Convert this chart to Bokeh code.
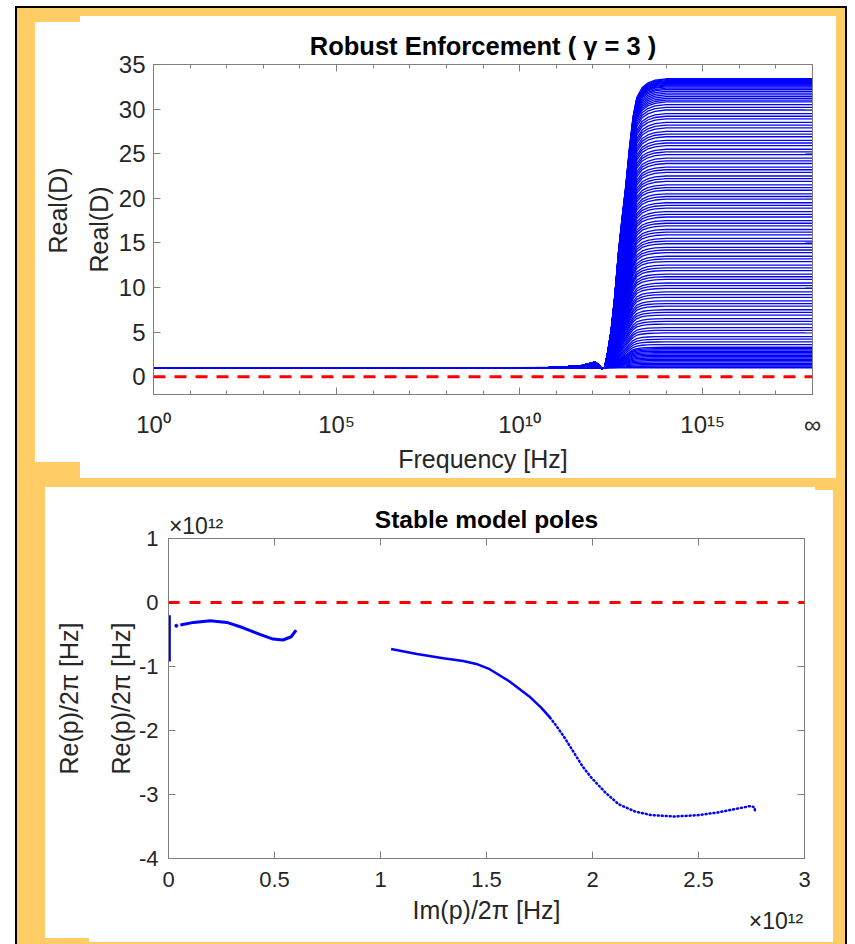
import numpy as np
from bokeh.plotting import figure
from bokeh.layouts import column
from bokeh.models import (FixedTicker, LogAxis, LinearAxis, Span, Range1d, Title)
from bokeh.embed import file_html
from bokeh.resources import INLINE

FONT = "Liberation Sans"
AX = "#7f7f7f"
TXT = "#262626"

# ---------------- top chart data (Robust Enforcement) ----------------
freq_exponent = [0, 10.0, 10.8, 11.3, 11.7, 11.95, 12.05, 12.15, 12.25, 12.32,
                 12.4, 12.5, 12.6, 12.7, 12.8, 12.9, 13.0, 13.1, 13.2, 13.35,
                 13.5, 13.7, 14.0, 14.5, 18]
rise_fraction = [0, 0, 0.001, 0.004, 0.008, 0.016, 0.020, 0.012, -0.004, 0.0,
                 0.05, 0.13, 0.25, 0.40, 0.52, 0.63, 0.76, 0.87, 0.935, 0.97,
                 0.985, 0.995, 1.0, 1.0, 1.0]
low_freq_level = 1.0
plateau_levels = [
    1.0, 1.1, 1.2, 1.35, 1.5, 1.65, 1.8, 1.95, 2.1, 2.25, 2.4, 2.55, 2.7, 2.85, 3.0, 3.15, 3.3,
    3.6, 3.9, 4.2, 4.5, 4.9, 5.2, 5.5, 5.9, 6.2, 6.5, 6.9, 7.2, 7.5, 7.9, 8.2, 8.5, 8.9, 9.2, 9.5, 9.9,
    10.2, 10.5, 10.9, 11.2, 11.5, 11.9, 12.2, 12.5, 12.9, 13.2, 13.5, 13.9, 14.2, 14.5, 14.9,
    15.2, 15.5, 15.9, 16.2, 16.5, 16.9, 17.2, 17.5, 17.9, 18.2, 18.5, 18.9, 19.2, 19.5, 19.9,
    20.2, 20.5, 20.9, 21.2, 21.5, 21.9, 22.2, 22.5, 22.9, 23.2, 23.5, 23.9, 24.2, 24.5, 24.9,
    25.2, 25.5, 25.9, 26.2, 26.5, 26.9, 27.2, 27.5, 27.9, 28.2, 28.5, 28.9, 29.2, 29.5, 29.9,
    30.2, 30.5, 30.8, 31.0, 31.2, 31.4, 31.6, 31.8, 32.0, 32.2, 32.35, 32.5, 32.6, 32.7, 32.8,
    32.9, 33.0, 33.1, 33.2, 33.3, 33.4]

top_x_ticks = [1e0, 1e5, 1e10, 1e15, 1e18]
top_x_labels = ["10⁰", "10⁵", "10¹⁰", "10¹⁵", "∞"]
top_x_minor = [10.0 ** k for k in range(19)]
top_y_ticks = [0, 5, 10, 15, 20, 25, 30, 35]

# ---------------- bottom chart data (poles, units of 1e12 Hz) ----------------
pole_a_im = [0.004, 0.004]
pole_a_re = [-0.20, -0.92]
pole_lone_im = [0.037]
pole_lone_re = [-0.364]
pole_b_im = [0.056, 0.118, 0.197, 0.275, 0.352, 0.431, 0.493, 0.540, 0.579, 0.602]
pole_b_re = [-0.353, -0.311, -0.286, -0.311, -0.395, -0.498, -0.571, -0.586, -0.535, -0.431]
pole_c_im = [1.050, 1.172, 1.296, 1.390, 1.452, 1.515, 1.609, 1.702, 1.760, 1.800]
pole_c_re = [-0.726, -0.804, -0.871, -0.913, -0.960, -1.042, -1.235, -1.468, -1.650, -1.800]
pole_d_im = [1.800, 1.830, 1.870, 1.915, 1.955, 1.998, 2.061, 2.123, 2.201, 2.279, 2.388,
             2.498, 2.591, 2.685, 2.747, 2.766, 2.766]
pole_d_re = [-1.800, -1.930, -2.120, -2.360, -2.570, -2.750, -2.970, -3.152, -3.266, -3.323,
             -3.344, -3.323, -3.281, -3.219, -3.179, -3.204, -3.281]

bot_x_ticks = [0, 0.5, 1, 1.5, 2, 2.5, 3]
bot_x_labels = ["0", "0.5", "1", "1.5", "2", "2.5", "3"]
bot_y_ticks = [-4, -3, -2, -1, 0, 1]
bot_y_labels = ["-4", "-3", "-2", "-1", "0", "1"]
exponent_text = "×10¹²"


def style_axis(ax, size, standoff, tick_in=7, minor_in=0):
    ax.axis_line_color = AX
    ax.axis_line_width = 1
    ax.major_tick_line_color = AX
    ax.minor_tick_line_color = AX
    ax.major_tick_in = tick_in
    ax.major_tick_out = 0
    ax.minor_tick_in = minor_in
    ax.minor_tick_out = 0
    ax.major_label_text_font = FONT
    ax.major_label_text_font_size = size
    ax.major_label_text_color = TXT
    ax.major_label_standoff = standoff
    ax.axis_label_text_font = FONT
    ax.axis_label_text_font_style = "normal"
    ax.axis_label_text_color = TXT


def blank_axis(ax):
    ax.major_label_text_font_size = "1px"
    ax.major_label_text_alpha = 0
    ax.major_label_standoff = 0


def text_only_axis(ax):
    ax.axis_line_color = None
    ax.major_tick_line_color = None
    ax.minor_tick_line_color = None


# ============ top figure ============
top = figure(width=820, height=462, x_axis_type="log",
             x_range=Range1d(1, 1e18), y_range=Range1d(-2, 35),
             output_backend="svg", toolbar_location=None,
             min_border_left=132, min_border_right=19, min_border_top=48, min_border_bottom=84,
             border_fill_color=None, background_fill_color="white",
             outline_line_color=AX, margin=(16, 0, 0, 21))
top.grid.visible = False

freqs = [10.0 ** e for e in freq_exponent]
fam_xs = [freqs for _ in plateau_levels]
fam_ys = [[low_freq_level + (lvl - low_freq_level) * f for f in rise_fraction]
          for lvl in plateau_levels]
top.multi_line(xs=fam_xs, ys=fam_ys, line_color="#0000ff", line_width=1.3)
top.add_layout(Span(location=0, dimension="width", line_color="#ff0000",
                    line_width=3, line_dash="12 9"))

xt = FixedTicker(ticks=top_x_ticks, minor_ticks=top_x_minor)
yt = FixedTicker(ticks=top_y_ticks)
xa = top.xaxis[0]
xa.ticker = xt
xa.major_label_overrides = dict(zip(top_x_ticks, top_x_labels))
style_axis(xa, "24px", 16, minor_in=4)
xa.axis_label = "Frequency [Hz]"
xa.axis_label_text_font_size = "25px"
xa.axis_label_standoff = 4
ya = top.yaxis[0]
ya.ticker = yt
style_axis(ya, "24px", 8)
ya.axis_label = "Real(D)"
ya.axis_label_text_font_size = "25px"
ya.axis_label_standoff = 3

ta = LogAxis(ticker=xt)
style_axis(ta, "1px", 0, minor_in=4)
blank_axis(ta)
top.add_layout(ta, "above")
ra = LinearAxis(ticker=yt)
style_axis(ra, "1px", 0)
blank_axis(ra)
top.add_layout(ra, "right")

top.title.text = "Robust Enforcement ( γ = 3 )"
top.title.align = "center"
top.title.text_font = FONT
top.title.text_font_size = "25.5px"
top.title.text_font_style = "bold"
top.title.text_color = "#000000"
top.title.standoff = 10

# duplicated (overlapping screenshot) y label
top.add_layout(Title(text="Real(D)", align="left", offset=141, standoff=19,
                     text_font=FONT, text_font_size="25px", text_font_style="normal",
                     text_color=TXT), "left")

# ============ bottom figure ============
bot = figure(width=797, height=455,
             x_range=Range1d(0, 3), y_range=Range1d(-4, 1),
             output_backend="svg", toolbar_location=None,
             min_border_left=127, min_border_right=29, min_border_top=51, min_border_bottom=84,
             border_fill_color=None, background_fill_color="white",
             outline_line_color=AX, margin=(9, 0, 0, 36))
bot.grid.visible = False

bot.add_layout(Span(location=0, dimension="width", line_color="#ff0000",
                    line_width=3, line_dash="11 10"))
bot.line(pole_a_im, pole_a_re, line_color="#0000ff", line_width=3)
bot.scatter(pole_lone_im, pole_lone_re, size=3, color="#0000ff")
bot.line(pole_b_im, pole_b_re, line_color="#0000ff", line_width=3)
bot.line(pole_c_im, pole_c_re, line_color="#0000ff", line_width=2.5)
bot.line(pole_d_im, pole_d_re, line_color="#0000ff", line_width=2.5,
         line_dash="1 3", line_cap="round")

bxt = FixedTicker(ticks=bot_x_ticks)
byt = FixedTicker(ticks=bot_y_ticks)
bxa = bot.xaxis[0]
bxa.ticker = bxt
bxa.major_label_overrides = dict(zip(bot_x_ticks, bot_x_labels))
style_axis(bxa, "22px", 13)
bxa.axis_label = "Im(p)/2π [Hz]"
bxa.axis_label_text_font_size = "25px"
bxa.axis_label_standoff = 6
bya = bot.yaxis[0]
bya.ticker = byt
bya.major_label_overrides = dict(zip(bot_y_ticks, bot_y_labels))
style_axis(bya, "22px", 10)
bya.axis_label = "Re(p)/2π [Hz]"
bya.axis_label_text_font_size = "25px"
bya.axis_label_standoff = 1

bta = LinearAxis(ticker=bxt)
style_axis(bta, "1px", 0)
blank_axis(bta)
bot.add_layout(bta, "above")
bra = LinearAxis(ticker=byt)
style_axis(bra, "1px", 0)
blank_axis(bra)
bot.add_layout(bra, "right")

# exponent marker (top-left) + title on one row
exp_top = LinearAxis(ticker=FixedTicker(ticks=[0.13]),
                     major_label_overrides={0.13: exponent_text})
style_axis(exp_top, "23px", 0)
text_only_axis(exp_top)
exp_top.axis_label = "Stable model poles"
exp_top.axis_label_text_font_size = "24.5px"
exp_top.axis_label_text_font_style = "bold"
exp_top.axis_label_text_color = "#000000"
exp_top.axis_label_standoff = -23
bot.add_layout(exp_top, "above")

# exponent marker (bottom-right), pulled up onto the x-label row
exp_bot = LinearAxis(ticker=FixedTicker(ticks=[2.865]),
                     major_label_overrides={2.865: exponent_text})
style_axis(exp_bot, "23px", -19)
text_only_axis(exp_bot)
bot.add_layout(exp_bot, "below")

# duplicated (overlapping screenshot) y label
dup_left = LinearAxis(ticker=byt)
style_axis(dup_left, "1px", 0)
blank_axis(dup_left)
text_only_axis(dup_left)
dup_left.axis_label = "Re(p)/2π [Hz]"
dup_left.axis_label_text_font_size = "25px"
dup_left.axis_label_standoff = 21
bot.add_layout(dup_left, "left")

# ============ page background: black frame, orange card, white panels ============
W = "linear-gradient(#ffffff,#ffffff)"
layers = [
    f"{W} 35px 22px / 45px 440px no-repeat",
    f"{W} 80px 16px / 756px 462px no-repeat",
    f"{W} 45px 487px / 770px 4px no-repeat",
    f"{W} 89px 490px / 744px 452px no-repeat",
    f"{W} 45px 487px / 44px 451px no-repeat",
    "linear-gradient(#ffcc66,#ffcc66) 17px 8px / 828px 936px no-repeat",
    "linear-gradient(#000000,#000000) 15px 6px / 832px 938px no-repeat",
    "#ffffff",
]
root = column(top, bot, width=855, height=944, sizing_mode="fixed",
              styles={"background": ", ".join(layers)})

open("out.html", "w").write(file_html(root, INLINE))
